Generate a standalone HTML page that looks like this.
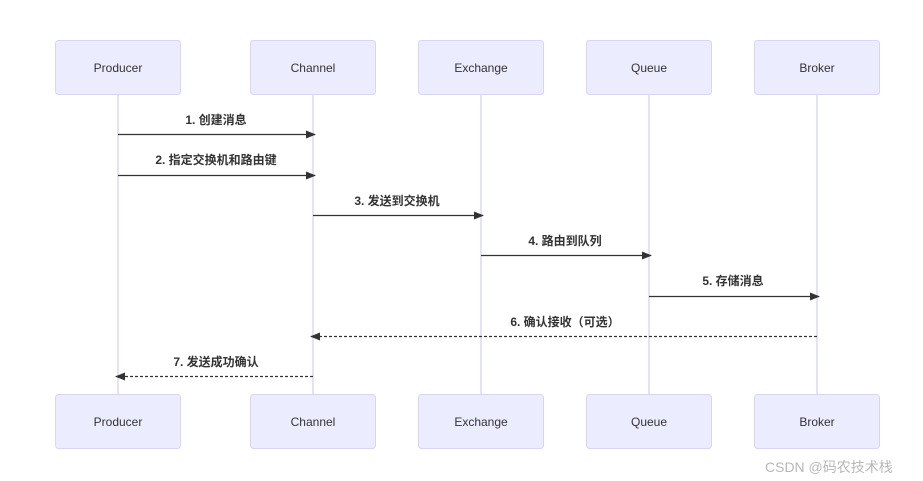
<!DOCTYPE html>
<html><head><meta charset="utf-8"><style>
html,body{margin:0;padding:0;background:#fff;}
svg{display:block;}
text{font-family:"Liberation Sans","Noto Sans CJK SC",sans-serif;}
</style></head><body>
<svg width="923" height="481" viewBox="0 0 923 481" xmlns="http://www.w3.org/2000/svg">
<defs>
<marker id="ah" markerWidth="10" markerHeight="8" refX="9" refY="4" orient="auto" markerUnits="userSpaceOnUse">
<path d="M0,0 L10,4 L0,8 z" fill="#333"/>
</marker>
</defs>
<g stroke="#d3cff0" stroke-width="1.2">
<line x1="118" y1="94" x2="118" y2="394"/>
<line x1="313" y1="94" x2="313" y2="394"/>
<line x1="481" y1="94" x2="481" y2="394"/>
<line x1="649" y1="94" x2="649" y2="394"/>
<line x1="817" y1="94" x2="817" y2="394"/>
</g>
<g fill="#ececff" stroke="#d8d4fa" stroke-width="1">
<rect x="55.5" y="40.5" width="125" height="54" rx="3"/>
<rect x="250.5" y="40.5" width="125" height="54" rx="3"/>
<rect x="418.5" y="40.5" width="125" height="54" rx="3"/>
<rect x="586.5" y="40.5" width="125" height="54" rx="3"/>
<rect x="754.5" y="40.5" width="125" height="54" rx="3"/>
<rect x="55.5" y="394.5" width="125" height="54" rx="3"/>
<rect x="250.5" y="394.5" width="125" height="54" rx="3"/>
<rect x="418.5" y="394.5" width="125" height="54" rx="3"/>
<rect x="586.5" y="394.5" width="125" height="54" rx="3"/>
<rect x="754.5" y="394.5" width="125" height="54" rx="3"/>
</g>
<g font-size="12" fill="#333" text-anchor="middle">
<text x="118" y="72">Producer</text>
<text x="313" y="72">Channel</text>
<text x="481" y="72">Exchange</text>
<text x="649" y="72">Queue</text>
<text x="817" y="72">Broker</text>
<text x="118" y="426">Producer</text>
<text x="313" y="426">Channel</text>
<text x="481" y="426">Exchange</text>
<text x="649" y="426">Queue</text>
<text x="817" y="426">Broker</text>
</g>
<g stroke="#333" stroke-width="1.3" marker-end="url(#ah)">
<line x1="118" y1="134.5" x2="315" y2="134.5"/>
<line x1="118" y1="175.5" x2="315" y2="175.5"/>
<line x1="313" y1="215.5" x2="483" y2="215.5"/>
<line x1="481" y1="255.5" x2="651" y2="255.5"/>
<line x1="649" y1="296.5" x2="819" y2="296.5"/>
<line x1="817" y1="336.5" x2="311" y2="336.5" stroke-dasharray="3,2"/>
<line x1="313" y1="376.5" x2="116" y2="376.5" stroke-dasharray="3,2"/>
</g>
<g font-size="12" font-weight="bold" fill="#333" text-anchor="middle">
<text x="216" y="124">1. 创建消息</text>
<text x="216" y="164">2. 指定交换机和路由键</text>
<text x="397" y="205">3. 发送到交换机</text>
<text x="565" y="245">4. 路由到队列</text>
<text x="733" y="285">5. 存储消息</text>
<text x="565" y="326">6. 确认接收（可选）</text>
<text x="216" y="366">7. 发送成功确认</text>
</g>
<text x="765" y="472" font-size="14" fill="#b8b8b8">CSDN @码农技术栈</text>
</svg>
</body></html>
